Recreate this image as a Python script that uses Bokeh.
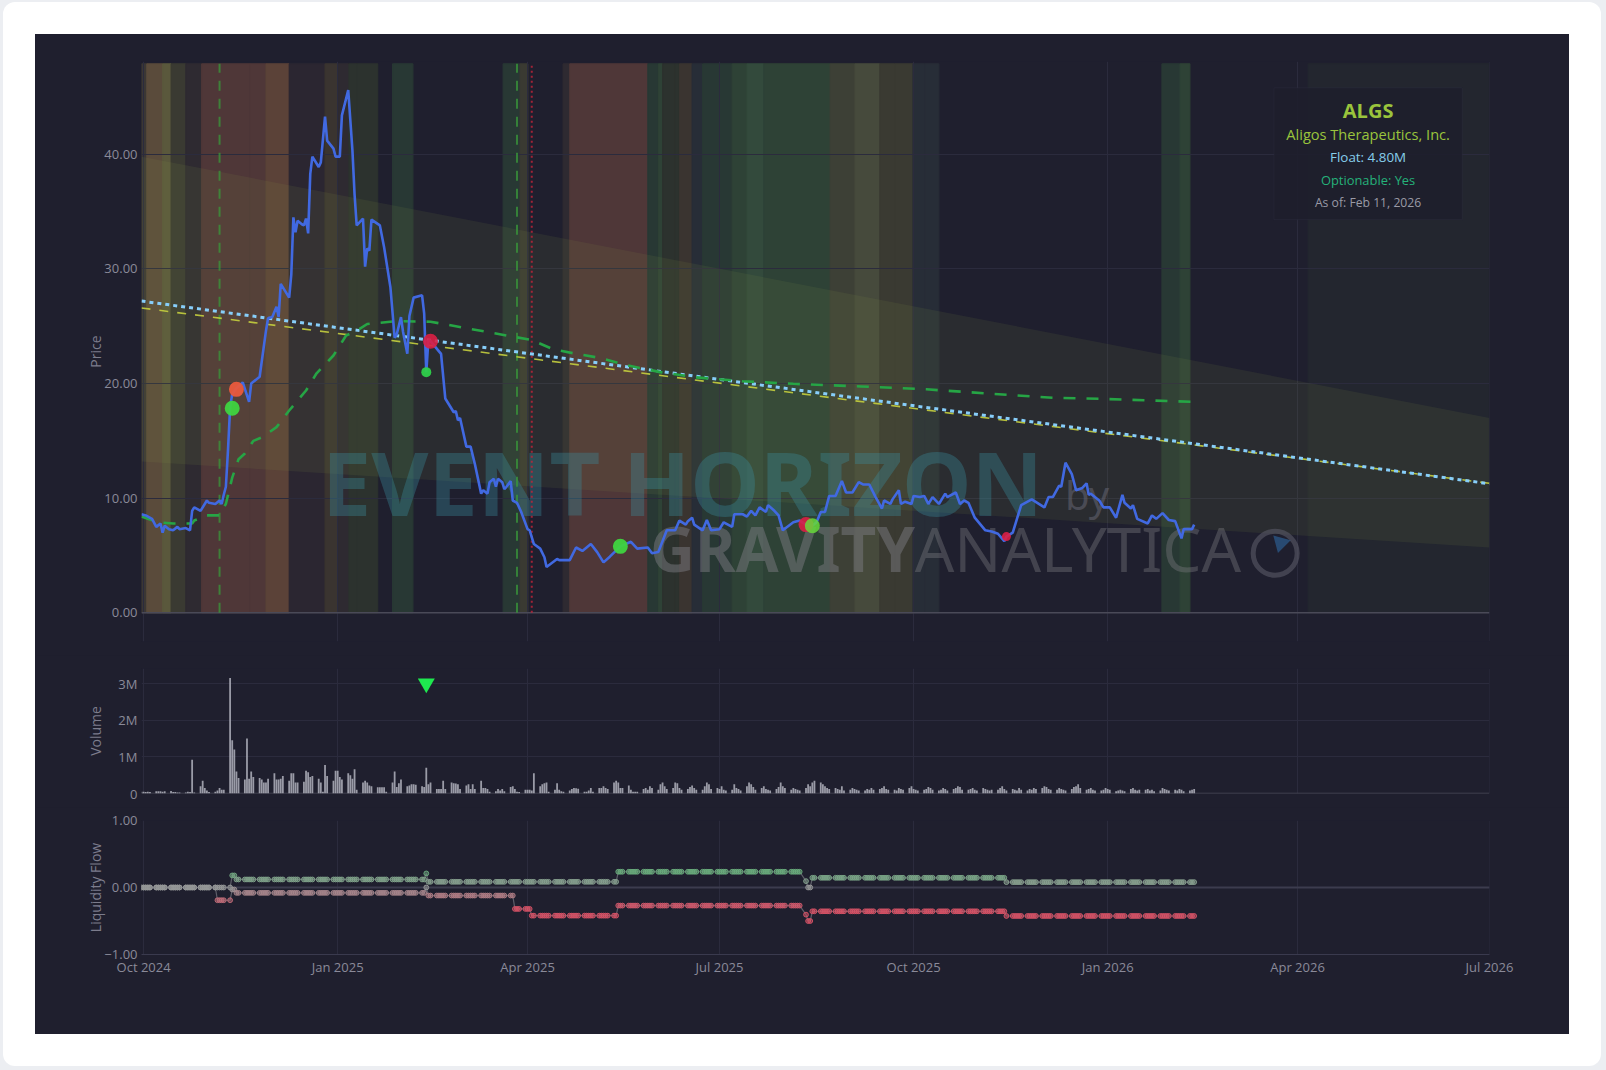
import numpy as np
import pandas as pd
from bokeh.plotting import figure
from bokeh.layouts import column
from bokeh.models import (Range1d, FixedTicker, MonthsTicker, DatetimeTickFormatter,
                          NumeralTickFormatter, ColumnDataSource, Span, BoxAnnotation,
                          Label, GlobalInlineStyleSheet)
from bokeh.embed import file_html
from bokeh.resources import INLINE
from bokeh.core.properties import value

# ---------------- data ----------------
start_date = "2024-09-30"
asof_date = "2026-02-11"
end_date = "2026-07-01"

ticker_symbol = "ALGS"
company_name = "Aligos Therapeutics, Inc."
float_text = "Float: 4.80M"
optionable_text = "Optionable: Yes"
asof_text = "As of: Feb 11, 2026"

# price: day offset from start_date, close
price_day = [0, 2, 5, 7, 9, 10, 11, 13, 15, 17, 18, 21, 23, 24, 25, 28, 31, 32, 35, 37, 38, 39, 40, 41,
             42, 43, 45, 48, 51, 52, 56, 59, 60, 62, 64, 65, 66, 70, 71, 72, 73, 74, 76, 77, 78, 79,
             80, 81, 84, 85, 87, 88, 91, 92, 94, 95, 98, 100, 101, 102, 105, 106, 107, 108, 109, 113,
             115, 118, 120, 121, 123, 124, 126, 127, 129, 133, 134, 135, 136, 137, 142, 144, 148, 149,
             150, 151, 154, 156, 158, 161, 162, 164, 165, 167, 168, 169, 171, 172, 173, 175, 176, 178,
             180, 183, 184, 186, 189, 191, 192, 197, 198, 203, 206, 209, 213, 216, 219, 222, 227, 232,
             235, 240, 242, 245, 249, 253, 255, 258, 259, 261, 262, 266, 268, 270, 274, 276, 280, 281,
             285, 287, 289, 291, 293, 296, 297, 300, 302, 304, 309, 312, 315, 318, 320, 322, 324, 326,
             329, 332, 334, 337, 340, 342, 345, 348, 351, 352, 355, 356, 359, 360, 362, 365, 366, 369,
             371, 373, 375, 378, 381, 382, 386, 388, 390, 392, 395, 400, 403, 406, 409, 410, 413, 415,
             417, 422, 428, 430, 432, 435, 436, 438, 441, 443, 446, 448, 449, 450, 454, 456, 459, 462,
             465, 466, 469, 470, 472, 477, 479, 481, 484, 487, 490, 493, 494, 498, 499]
price_close = [8.6, 8.5, 8.2, 7.5, 7.8, 7.0, 7.6, 7.3, 7.2, 7.5, 7.3, 7.4, 7.2, 8.9, 9.2, 8.9, 9.8, 9.6,
               9.5, 9.8, 9.5, 10.3, 11.0, 14.2, 17.9, 19.1, 19.6, 20.1, 18.4, 20.0, 20.6, 24.6, 25.7,
               25.8, 26.7, 25.8, 28.7, 27.5, 29.5, 34.5, 33.2, 34.2, 33.9, 33.8, 34.4, 33.1, 38.3, 39.8,
               38.9, 39.3, 43.3, 41.2, 40.5, 39.8, 39.8, 43.4, 45.6, 40.3, 36.5, 33.8, 34.4, 30.2, 31.8,
               31.6, 34.3, 33.8, 31.9, 28.4, 24.0, 24.3, 25.8, 24.5, 22.6, 25.9, 27.5, 27.7, 26.1, 21.0,
               23.8, 23.7, 22.6, 18.7, 17.5, 17.6, 16.8, 17.0, 14.5, 14.5, 13.0, 10.4, 10.7, 10.4, 11.4,
               11.7, 11.0, 11.7, 11.4, 10.8, 11.0, 11.5, 9.8, 9.6, 8.8, 7.3, 7.2, 6.0, 5.6, 4.85, 4.0,
               4.7, 4.6, 4.6, 5.7, 5.4, 6.0, 5.3, 4.4, 4.9, 5.8, 6.2, 5.6, 5.7, 5.2, 5.3, 7.2, 7.2, 8.05,
               7.7, 8.0, 8.3, 7.7, 7.2, 8.1, 7.2, 7.3, 7.9, 7.5, 8.6, 8.6, 8.4, 8.9, 8.5, 9.2, 8.8, 9.4,
               8.9, 8.5, 7.2, 7.9, 8.05, 7.7, 7.6, 7.9, 8.8, 8.8, 10.2, 10.2, 11.5, 10.5, 10.5, 11.4,
               11.2, 11.2, 10.1, 9.1, 9.8, 9.5, 9.9, 10.7, 9.5, 9.7, 9.5, 10.2, 10.1, 10.2, 9.5, 10.1,
               9.5, 10.4, 10.1, 10.5, 9.5, 9.8, 9.6, 8.3, 7.2, 7.1, 6.9, 6.25, 6.65, 7.0, 8.2, 9.4, 9.9,
               9.2, 10.1, 10.1, 11.1, 11.0, 13.1, 12.1, 10.7, 10.9, 11.3, 10.3, 10.4, 9.8, 9.2, 9.2, 8.3,
               10.3, 9.6, 9.1, 9.4, 8.2, 7.8, 8.5, 8.2, 8.7, 8.1, 8.0, 6.5, 7.3, 7.3, 7.7]

# moving average (green dashed)
sma_day = [0, 8, 15, 24, 25, 31, 37, 40, 43, 46, 49, 53, 57, 64, 70, 78, 83, 91, 97, 102, 107, 121,
           137, 152, 176, 185, 195, 206, 217, 230, 246, 262, 285, 309, 341, 372, 404, 432, 454, 499]
sma_value = [8.4, 7.9, 7.8, 7.8, 8.05, 8.5, 8.5, 9.5, 11.8, 13.4, 13.9, 15.0, 15.3, 16.2, 17.65, 19.4,
             20.9, 22.45, 24.2, 24.6, 25.2, 25.45, 25.4, 24.9, 24.1, 23.8, 23.0, 22.6, 22.25, 21.6, 21.0,
             20.56, 20.2, 19.98, 19.75, 19.5, 19.1, 18.76, 18.67, 18.4]

# regression channel and trend lines
line_day = [0, 639]
channel_upper = [39.8, 17.0]
channel_lower = [13.2, 5.7]
trend_value = [27.2, 11.26]
fit_value = [26.6, 11.3]

# event markers (vertical lines)
event_day = [37, 178]
exit_day = [185]

# signals on price
signal_day = [43, 45, 135, 137, 227, 315, 318, 410]
signal_price = [17.85, 19.5, 21.0, 23.7, 5.8, 7.7, 7.6, 6.65]
signal_type = ["buy", "take", "buy_small", "sell", "buy", "sell", "buy_soft", "sell_small"]

# regime bands (day offsets) and their kind
band_start = [0, 2.5, 10, 14, 21, 28.5, 51.4, 59, 70, 87, 93, 98.3, 102, 119, 171.4, 179.4, 199.8,
              203, 240, 245, 247, 253, 255, 261, 266, 274, 280, 287, 295, 326.4, 338.2, 350, 357,
              365.7, 371.4, 483.7, 492.3, 553]
band_end = [2.5, 10, 14, 21, 28.5, 51.4, 59, 70, 87, 93, 98.3, 102, 112, 128.7, 179.4, 183.2, 203,
            240, 245, 247, 253, 255, 261, 266, 274, 280, 287, 295, 326.4, 338.2, 350, 357, 365.7,
            371.4, 378, 492.3, 497, 639]
band_kind = ["gray", "orange", "yellow", "olive", "plum", "red", "red", "orange2", "dusk", "brown",
             "plum", "moss", "moss", "teal", "teal", "olive", "plum", "red", "teal", "green", "moss",
             "moss", "brown", "slate", "teal", "teal", "green", "green2", "green", "olive2", "yellow2",
             "olive", "olive", "slate", "slate", "teal", "green", "forecast"]

# daily volume (thousands), one value per weekday from start_date
volume_k = [
    50, 50, 40, 50, 40, 60, 60, 60, 50, 60, 70, 40, 40, 30, 30, 30, 50, 40, 920, 30,
    200, 350, 150, 80, 40, 50, 80, 150, 100, 100, 3150, 1450, 1200, 600, 420, 380, 1500, 400, 600, 450,
    420, 380, 300, 300, 400, 550, 380, 380, 400, 480, 350, 550, 550, 300, 300, 320, 620, 580, 450, 480,
    400, 300, 50, 780, 480, 350, 620, 620, 450, 380, 550, 500, 400, 660, 100, 300, 350, 300, 220, 200,
    170, 170, 170, 170, 50, 300, 600, 180, 280, 380, 200, 220, 250, 250, 240, 200, 180, 700, 250, 300,
    120, 120, 120, 350, 120, 300, 280, 270, 250, 120, 220, 250, 120, 250, 120, 350, 150, 150, 120, 50,
    60, 120, 80, 120, 60, 180, 200, 120, 50, 40, 100, 100, 100, 80, 550, 200, 250, 280, 300, 50,
    100, 280, 100, 60, 50, 80, 120, 150, 140, 130, 50, 50, 80, 150, 50, 150, 150, 200, 150, 120,
    300, 350, 300, 150, 150, 220, 100, 50, 50, 50, 120, 150, 100, 200, 150, 100, 250, 300, 200, 120,
    150, 300, 280, 150, 100, 120, 180, 220, 150, 100, 100, 200, 300, 250, 120, 150, 120, 200, 100, 80,
    100, 250, 150, 120, 80, 200, 300, 250, 180, 100, 150, 200, 120, 100, 80, 120, 180, 300, 200, 150,
    100, 150, 120, 100, 80, 150, 250, 200, 300, 350, 300, 250, 200, 150, 120, 150, 120, 100, 200, 80,
    100, 150, 120, 100, 80, 80, 120, 100, 150, 100, 120, 150, 200, 120, 100, 100, 80, 150, 120, 100,
    150, 200, 120, 100, 80, 100, 120, 180, 150, 100, 80, 100, 150, 120, 80, 120, 150, 200, 180, 100,
    100, 120, 150, 100, 80, 150, 120, 100, 80, 100, 100, 150, 200, 120, 80, 120, 100, 80, 150, 100,
    80, 120, 100, 150, 120, 150, 200, 180, 120, 100, 100, 150, 120, 100, 80, 120, 180, 200, 250, 150,
    100, 120, 150, 100, 80, 80, 100, 150, 120, 100, 60, 80, 100, 80, 60, 120, 150, 100, 80, 100,
    100, 120, 80, 100, 60, 80, 150, 120, 100, 80, 100, 80, 120, 100, 60, 80, 100, 120]
volume_alert_day = [135]
volume_alert_level = [3.0e6]

# liquidity flow step levels (day offset where level starts)
inflow_change_day = [0, 43, 45, 135, 136, 226, 315, 316, 318, 410]
inflow_level = [0.0, 0.18, 0.12, 0.21, 0.085, 0.235, 0.095, 0.0, 0.145, 0.08]
outflow_change_day = [0, 36, 43, 45, 135, 136, 177, 185, 226, 315, 316, 318, 410]
outflow_level = [0.0, -0.19, -0.03, -0.08, 0.0, -0.12, -0.32, -0.42, -0.27, -0.405, -0.5, -0.355, -0.425]

# ---------------- helpers ----------------
START = pd.Timestamp(start_date)
DAY_MS = 86400000.0
START_MS = START.value / 1e6


def ms(d):
    return START_MS + np.asarray(d, dtype=float) * DAY_MS


BG = "#1f1f2e"
GRID = "#2b2b3d"
TICK = "#8a8a99"
FONT = "Open Sans"

band_palette = {
    "gray": "#3b3734", "orange": "#5a4b3b", "yellow": "#5a583c", "olive": "#3a3a32",
    "plum": "#2e2a31", "red": "#4f3738", "orange2": "#5b4238", "dusk": "#2b2631",
    "brown": "#3a3430", "moss": "#2c322e", "teal": "#283834", "green": "#2e4236",
    "green2": "#334a3c", "olive2": "#3d4036", "yellow2": "#464a3c", "slate": "#272d37",
    "forecast": "#23262f",
}
signal_style = {
    "buy": ("#3fd43f", 15, 0.95), "take": ("#ea5a3c", 15, 0.95), "buy_small": ("#2ed04a", 10, 0.95),
    "sell": ("#dc1f45", 15, 0.9), "buy_soft": ("#66d93a", 15, 0.85), "sell_small": ("#dc1f45", 9, 0.9),
}

x_range = Range1d(ms(0), float(pd.Timestamp(end_date).value / 1e6) + 60000)
quarter_ticker = MonthsTicker(months=[0, 3, 6, 9])


def make_fig(height, top, bottom, y_range, x_loc=None):
    p = figure(width=1534, height=height, x_range=x_range, y_range=y_range,
               x_axis_type="datetime", x_axis_location=x_loc, title=None,
               output_backend="svg", toolbar_location=None, tools="",
               background_fill_color=BG, border_fill_color=BG, outline_line_color=None,
               min_border_left=106, min_border_right=80, min_border_top=top, min_border_bottom=bottom)
    p.xgrid.ticker = quarter_ticker
    p.grid.grid_line_color = GRID
    p.grid.grid_line_width = 1
    ax = p.yaxis[0]
    ax.axis_line_color = None
    ax.major_tick_line_color = None
    ax.minor_tick_line_color = None
    ax.major_tick_out = 0
    ax.major_tick_in = 0
    ax.minor_tick_out = 0
    ax.major_label_standoff = 4
    ax.major_label_text_font = FONT
    ax.major_label_text_font_size = "13px"
    ax.major_label_text_color = TICK
    ax.axis_label_text_font = FONT
    ax.axis_label_text_font_size = "14px"
    ax.axis_label_text_font_style = "normal"
    ax.axis_label_text_color = "#7c7c8c"
    return p


# ---------------- price panel ----------------
p1 = make_fig(621, 27, 14, Range1d(-2.5, 48.1))
p1.yaxis.axis_label = "Price"
p1.yaxis.ticker = FixedTicker(ticks=[0, 10, 20, 30, 40])
p1.yaxis.formatter = NumeralTickFormatter(format="0.00")
p1.yaxis.axis_label_standoff = -4

band_src = ColumnDataSource(dict(left=ms(band_start), right=ms(band_end),
                                 color=[band_palette[k] for k in band_kind]))
p1.quad(left="left", right="right", bottom=0, top=47.9, color="color", source=band_src,
        level="image")
p1.add_layout(Span(location=0, dimension="width", line_color="#4a4a58", line_width=1.5,
                   level="underlay"))

# channel
cx = np.concatenate([ms(line_day), ms(line_day)[::-1]])
cy = np.concatenate([channel_upper, channel_lower[::-1]])
p1.patch(cx, cy, fill_color="#8c9a48", fill_alpha=0.11, line_color=None)

# watermark
p1.text(x=[ms(85.6)], y=[11.45], text=["EVENT HORIZON"], text_font=value("Noto Sans"),
        text_font_size=value("88px"), text_font_style="bold", text_color="#3a8a9a",
        text_alpha=0.36, text_baseline="alphabetic", text_align="left")
p1.text(x=[ms(437.8)], y=[10.35], text=["by"], text_font=value("Noto Sans"),
        text_font_size=value("40px"), text_color="#6a6a78", text_alpha=0.5,
        text_baseline="alphabetic", text_align="left")
p1.text(x=[ms(241.1)], y=[5.7], text=["GRAVITY"], text_font=value("Noto Sans"),
        text_font_size=value("62px"), text_font_style="bold", text_color="#7a7a80", text_alpha=0.5,
        text_baseline="alphabetic", text_align="left")
p1.text(x=[ms(366.5)], y=[5.7], text=["ANALYTICA"], text_font=value("Noto Sans"),
        text_font_size=value("62px"), text_color="#7a7a80", text_alpha=0.4,
        text_baseline="alphabetic", text_align="left")
p1.scatter(x=[ms(537.4)], y=[5.2], marker="circle", size=44, fill_alpha=0,
           line_color="#5a5a68", line_width=5, line_alpha=0.6)
p1.scatter(x=[ms(540.0)], y=[6.1], marker="triangle", angle=0.785, size=18,
           fill_color="#2c5a8a", line_color=None, fill_alpha=0.75)

# event lines
for d in event_day:
    p1.line(x=[ms(d), ms(d)], y=[0, 47.9], line_color="#3a9a3a", line_width=2,
            line_dash="10 8", line_alpha=0.75)
for d in exit_day:
    p1.line(x=[ms(d), ms(d)], y=[0, 47.9], line_color="#c0243a", line_width=2,
            line_dash="2 3", line_alpha=0.8)

# trend lines
p1.line(ms(line_day), fit_value, line_color="#c5cf3e", line_width=1.6, line_dash="9 9", line_alpha=0.9)
p1.line(ms(line_day), trend_value, line_color="#87cefa", line_width=3, line_dash="4 4")
p1.line(ms(sma_day), sma_value, line_color="#26a545", line_width=2.6, line_dash="12 11")

# price
p1.line(ms(price_day), price_close, line_color="#4169e1", line_width=2.6)

for t in ["take", "buy", "buy_small", "sell", "sell_small", "buy_soft"]:
    idx = [i for i, s in enumerate(signal_type) if s == t]
    col, sz, al = signal_style[t]
    p1.scatter(x=ms([signal_day[i] for i in idx]), y=[signal_price[i] for i in idx],
               marker="circle", size=sz, fill_color=col, line_color=None, fill_alpha=al)

# info box
p1.add_layout(BoxAnnotation(left=ms(536.8), right=ms(626.1), top=45.8, bottom=34.3,
                            fill_color="#1e1e2c", fill_alpha=0.92, line_color="#34344a",
                            line_width=1))
xc = float(ms(581.45))
for txt, yy, col, sz, sty in [(ticker_symbol, 43.85, "#9ac43c", "20px", "bold"),
                              (company_name, 41.75, "#9ac43c", "14.6px", "normal"),
                              (float_text, 39.75, "#87ceeb", "13.4px", "normal"),
                              (optionable_text, 37.8, "#25b27a", "12.9px", "normal"),
                              (asof_text, 35.8, "#9a9aa6", "12.2px", "normal")]:
    p1.add_layout(Label(x=xc, y=yy, text=txt, text_align="center", text_baseline="middle",
                        text_font=FONT, text_font_size=sz, text_font_style=sty, text_color=col))

# ---------------- volume panel ----------------
p2 = make_fig(152, 13, 14, Range1d(0, 3.41e6))
p2.yaxis.axis_label = "Volume"
p2.yaxis.ticker = FixedTicker(ticks=[0, 1e6, 2e6, 3e6])
p2.yaxis.major_label_overrides = {0: "0", 1000000: "1M", 2000000: "2M", 3000000: "3M"}
p2.yaxis.axis_label_standoff = 10
vol_dates = pd.bdate_range(start_date, asof_date)
vol_days = (vol_dates - START).days.values
vol_src = ColumnDataSource(dict(x=ms(vol_days), top=np.array(volume_k) * 1000.0))
p2.vbar(x="x", top="top", width=0.85 * DAY_MS, source=vol_src, fill_color="#b0b2bc",
        fill_alpha=0.85, line_color=None)
p2.add_layout(Span(location=0, dimension="width", line_color="#4a4a58", line_width=1.5,
                   level="underlay"))
p2.scatter(x=ms(volume_alert_day), y=volume_alert_level, marker="inverted_triangle", size=17,
           fill_color="#1ee84f", line_color=None)

# ---------------- liquidity panel ----------------
p3 = make_fig(227, 13, 80, Range1d(-1, 1), x_loc="below")
p3.yaxis.axis_label = "Liquidity Flow"
p3.yaxis.ticker = FixedTicker(ticks=[-1, 0, 1])
p3.yaxis.major_label_overrides = {-1: "\u22121.00", 0: "0.00", 1: "1.00"}
p3.yaxis.axis_label_standoff = -4
xa = p3.xaxis[0]
xa.ticker = quarter_ticker
xa.formatter = DatetimeTickFormatter(months="%b %Y", years="%b %Y", days="%b %Y")
xa.axis_line_color = "#3a3a4e"
xa.major_tick_line_color = None
xa.minor_tick_line_color = None
xa.major_tick_out = 0
xa.major_tick_in = 0
xa.minor_tick_out = 0
xa.major_label_standoff = 3
xa.major_label_text_font = FONT
xa.major_label_text_font_size = "13px"
xa.major_label_text_color = TICK
p3.add_layout(Span(location=0, dimension="width", line_color="#3c3c4e", line_width=2,
                   level="underlay"))


def step_values(days, change_day, level):
    idx = np.searchsorted(np.array(change_day), days, side="right") - 1
    return np.array(level)[idx]


def liq_color(v):
    t = min(abs(v) / 0.3, 1.0)
    base = (150, 152, 152)
    tgt = (92, 178, 116) if v > 0 else (214, 82, 102)
    c = tuple(int(round(b + (g - b) * t)) for b, g in zip(base, tgt))
    return "#%02x%02x%02x" % c


inflow = step_values(vol_days, inflow_change_day, inflow_level)
outflow = step_values(vol_days, outflow_change_day, outflow_level)
for series in (outflow, inflow):
    cols = [liq_color(v) for v in series]
    p3.line(ms(vol_days), series, line_color="#6e6e78", line_width=1.2, line_alpha=0.8)
    p3.scatter(ms(vol_days), series, marker="circle", size=4.8, fill_color=cols,
               line_color=cols, line_width=1, line_alpha=0.95, fill_alpha=0.5)

# ---------------- layout ----------------
inner = column(p1, p2, p3, spacing=0, margin=(32, 32, 32, 32),
               styles={"background-color": BG})
root = column(inner, margin=(2, 0, 0, 3),
              styles={"background-color": "#ffffff", "border-radius": "12px"},
              stylesheets=[GlobalInlineStyleSheet(
                  css="html, body { background-color: #eceef2; overflow: hidden; }")])

open("out.html", "w").write(file_html(root, INLINE))
